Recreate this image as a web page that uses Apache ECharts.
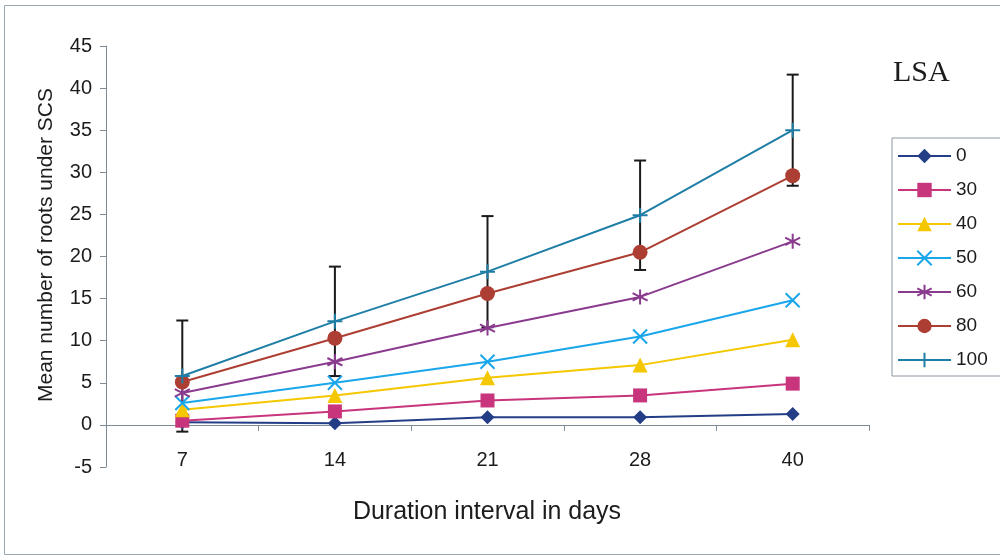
<!DOCTYPE html>
<html>
<head>
<meta charset="utf-8">
<script src="https://cdn.jsdelivr.net/npm/echarts@6/dist/echarts.min.js"></script>
<style>
  html, body { margin: 0; padding: 0; background: #ffffff; }
  #chart { width: 1000px; height: 556px; }
</style>
</head>
<body>
<div id="chart"></div>
<script>
// Duration intervals (days)
const days = ['7', '14', '21', '28', '40'];

// Mean number of roots under SCS for each LSA level
const lsa0   = [0.3, 0.2, 0.9, 0.9, 1.3];
const lsa30  = [0.5, 1.6, 2.9, 3.5, 4.9];
const lsa40  = [1.8, 3.5, 5.6, 7.1, 10.1];
const lsa50  = [2.6, 5.0, 7.5, 10.5, 14.8];
const lsa60  = [3.8, 7.5, 11.5, 15.2, 21.8];
const lsa80  = [5.1, 10.3, 15.6, 20.5, 29.6];
const lsa100 = [5.8, 12.3, 18.2, 24.9, 35.0];

// Error (± value) shown on the LSA 100 series
const err100 = [6.6, 6.5, 6.6, 6.5, 6.6];

const FONT = '"Liberation Sans", Arial, sans-serif';
const TEXT = '#1c1c1c';
const AXIS = '#7d8b96';

const crossPath = 'path://M0,0L10,10M10,0L0,10';
const starPath = 'path://M5,0L5,10M0,2.5L10,7.5M10,2.5L0,7.5';
const plusPath = 'path://M5,0L5,10M0,5L10,5';

function lineSeries(name, data, color, symbol, size, strokeSymbol) {
  return {
    name: name,
    type: 'line',
    data: data,
    symbol: symbol,
    symbolSize: size,
    z: 3,
    lineStyle: { color: color, width: 2 },
    itemStyle: strokeSymbol
      ? { color: 'none', borderColor: color, borderWidth: 2 }
      : { color: color, borderWidth: 0 },
    emphasis: { disabled: true }
  };
}

const chart = echarts.init(document.getElementById('chart'), null, { renderer: 'canvas' });

chart.setOption({
  animation: false,
  backgroundColor: '#ffffff',
  grid: { left: 106, top: 46, width: 763, height: 421, containLabel: false },
  xAxis: {
    type: 'category',
    data: days,
    boundaryGap: true,
    axisLine: { onZero: true, lineStyle: { color: AXIS, width: 1 } },
    axisTick: { show: true, length: 6, lineStyle: { color: AXIS } },
    axisLabel: { margin: -17, fontFamily: FONT, fontSize: 20, color: TEXT },
    splitLine: { show: false }
  },
  yAxis: {
    type: 'value',
    min: -5,
    max: 45,
    interval: 5,
    axisLine: { show: true, lineStyle: { color: AXIS, width: 1 } },
    axisTick: { show: true, length: 6, lineStyle: { color: AXIS } },
    axisLabel: { margin: 14, fontFamily: FONT, fontSize: 20, color: TEXT },
    splitLine: { show: false }
  },
  legend: {
    orient: 'vertical',
    left: 892,
    top: 138,
    padding: [8, 14, 6, 5],
    itemGap: 14,
    itemWidth: 53,
    itemHeight: 18,
    borderColor: '#8a96a0',
    borderWidth: 1,
    backgroundColor: '#ffffff',
    textStyle: { fontFamily: FONT, fontSize: 19, color: TEXT, lineHeight: 20, padding: [0, 0, 0, 0] },
    data: ['0', '30', '40', '50', '60', '80', '100']
  },
  graphic: [
    {
      type: 'rect',
      shape: { x: 4.5, y: 5.5, width: 1000, height: 549 },
      style: { fill: 'none', stroke: '#9aa6b0', lineWidth: 1 },
      silent: true
    },
    {
      type: 'text',
      left: 893,
      top: 58,
      style: { text: 'LSA', font: '30px "Liberation Serif", "Times New Roman", serif', fill: TEXT }
    },
    {
      type: 'text',
      x: 487,
      y: 512,
      style: {
        text: 'Duration interval in days',
        font: '25px ' + FONT,
        fill: TEXT,
        align: 'center',
        verticalAlign: 'middle'
      }
    },
    {
      type: 'text',
      x: 46,
      y: 245,
      rotation: Math.PI / 2,
      style: {
        text: 'Mean number of roots under SCS',
        font: '21px ' + FONT,
        fill: TEXT,
        align: 'center',
        verticalAlign: 'middle'
      }
    }
  ],
  series: [
    {
      name: 'errors',
      type: 'custom',
      z: 2,
      silent: true,
      data: lsa100.map(function (v, i) { return [i, v - err100[i], v + err100[i]]; }),
      renderItem: function (params, api) {
        const lo = api.coord([api.value(0), api.value(1)]);
        const hi = api.coord([api.value(0), api.value(2)]);
        const half = 6;
        const st = { stroke: '#1a1a1a', lineWidth: 2 };
        return {
          type: 'group',
          children: [
            { type: 'line', shape: { x1: lo[0], y1: lo[1], x2: hi[0], y2: hi[1] }, style: st },
            { type: 'line', shape: { x1: lo[0] - half, y1: lo[1], x2: lo[0] + half, y2: lo[1] }, style: st },
            { type: 'line', shape: { x1: hi[0] - half, y1: hi[1], x2: hi[0] + half, y2: hi[1] }, style: st }
          ]
        };
      },
      encode: { x: 0, y: [1, 2] }
    },
    lineSeries('0',   lsa0,   '#233e86', 'diamond',  14, false),
    lineSeries('30',  lsa30,  '#c8357d', 'rect',     14, false),
    lineSeries('40',  lsa40,  '#f4c700', 'triangle', 15, false),
    lineSeries('50',  lsa50,  '#1aa6ea', crossPath,  14, true),
    lineSeries('60',  lsa60,  '#8a3b8e', starPath,   15, true),
    lineSeries('80',  lsa80,  '#ad3e33', 'circle',   15, false),
    lineSeries('100', lsa100, '#1f7ea6', plusPath,   15, true)
  ]
});
</script>
</body>
</html>
